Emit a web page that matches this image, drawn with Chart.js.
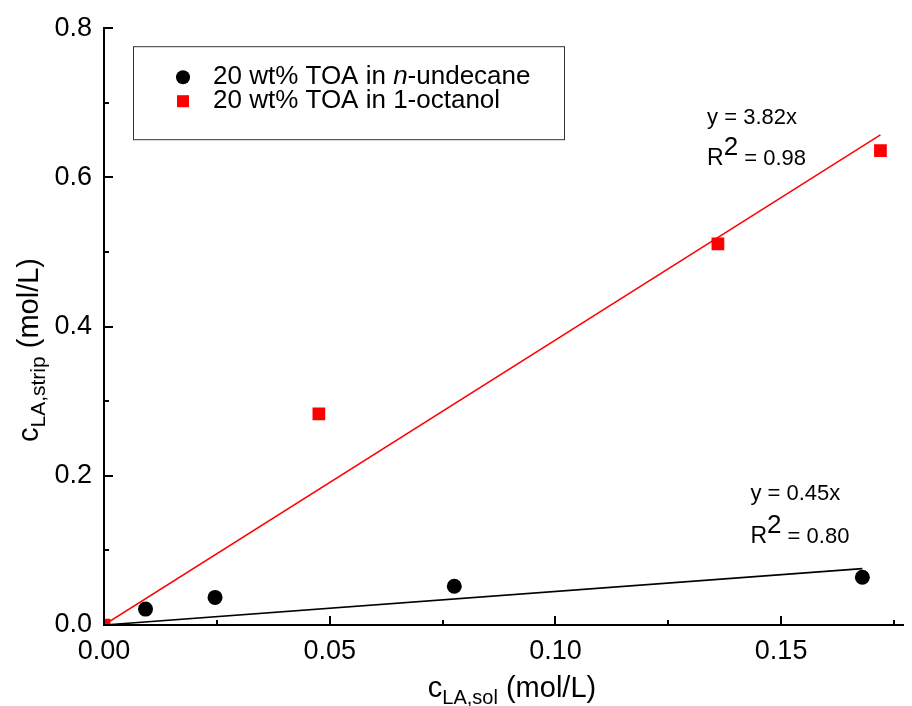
<!DOCTYPE html>
<html>
<head>
<meta charset="utf-8">
<script src="https://cdn.jsdelivr.net/npm/chart.js@4.4.1/dist/chart.umd.min.js"></script>
<style>
  html, body { margin: 0; padding: 0; background: #fff; }
  #wrap { width: 912px; height: 706px; }
</style>
</head>
<body>
<div id="wrap"><canvas id="stripChart"></canvas></div>
<script>
// LA concentration in strip phase vs. solvent phase (mol/L)
const undecaneX = [0.0092, 0.0246, 0.0776, 0.168];
const undecaneY = [0.0213, 0.037, 0.052, 0.064];
const octanolX = [0, 0.0476, 0.136, 0.172];
const octanolY = [0, 0.283, 0.511, 0.636];

// fits through the origin: undecane, octanol
const fitSlopes = [0.45, 3.82];
const fitR2 = ['0.80', '0.98'];
const fitEndX = [0.168, 0.172];

const seriesLabels = ['20 wt% TOA in n-undecane', '20 wt% TOA in 1-octanol'];

const xTicks = [0, 0.05, 0.10, 0.15];
const xMinorTicks = [0.025, 0.075, 0.125, 0.175];
const yTicks = [0, 0.2, 0.4, 0.6, 0.8];
const yMinorTicks = [0.1, 0.3, 0.5, 0.7];

const FONT = 'Liberation Sans';
Chart.defaults.font.family = FONT;
Chart.defaults.color = '#000';

const toPoints = (xs, ys) => xs.map((x, i) => ({ x: x, y: ys[i] }));
const fitLine = k => [{ x: 0, y: 0 }, { x: fitEndX[k], y: fitSlopes[k] * fitEndX[k] }];

// text helpers for sub/superscripts and italics
const fontOf = r => (r.italic ? 'italic ' : '') + r.size + 'px "' + FONT + '"';
function runsWidth(ctx, runs) {
  let w = 0;
  runs.forEach(r => { ctx.font = fontOf(r); w += ctx.measureText(r.text).width; });
  return w;
}
function drawRuns(ctx, x, y, runs) {
  runs.forEach(r => {
    ctx.font = fontOf(r);
    ctx.fillText(r.text, x, y + (r.dy || 0));
    x += ctx.measureText(r.text).width;
  });
}

const decorations = {
  id: 'decorations',
  afterDraw(chart) {
    const ctx = chart.ctx;
    const a = chart.chartArea;
    const xs = chart.scales.x, ys = chart.scales.y;
    ctx.save();
    ctx.fillStyle = '#000';
    ctx.strokeStyle = '#000';

    // inward ticks
    ctx.lineWidth = 2;
    ctx.beginPath();
    xTicks.forEach(v => { const p = Math.round(xs.getPixelForValue(v)); ctx.moveTo(p, a.bottom); ctx.lineTo(p, a.bottom - 9); });
    xMinorTicks.forEach(v => { const p = Math.round(xs.getPixelForValue(v)); ctx.moveTo(p, a.bottom); ctx.lineTo(p, a.bottom - 5); });
    yTicks.forEach(v => { const p = Math.round(ys.getPixelForValue(v)); ctx.moveTo(a.left, p); ctx.lineTo(a.left + 9, p); });
    yMinorTicks.forEach(v => { const p = Math.round(ys.getPixelForValue(v)); ctx.moveTo(a.left, p); ctx.lineTo(a.left + 5, p); });
    ctx.stroke();

    // axis titles
    ctx.textBaseline = 'alphabetic';
    const xTitle = [{ text: 'c', size: 29 }, { text: 'LA,sol', size: 20, dy: 7 }, { text: ' (mol/L)', size: 29 }];
    const xw = runsWidth(ctx, xTitle);
    drawRuns(ctx, 512 - xw / 2, 697, xTitle);

    const yTitle = [{ text: 'c', size: 29 }, { text: 'LA,strip', size: 21, dy: 7 }, { text: ' (mol/L)', size: 29 }];
    const yw = runsWidth(ctx, yTitle);
    ctx.save();
    ctx.translate(38, 350);
    ctx.rotate(-Math.PI / 2);
    drawRuns(ctx, -yw / 2, 0, yTitle);
    ctx.restore();

    // legend box
    const lx = a.left + 29, ly = a.top + 18;
    ctx.lineWidth = 1;
    ctx.strokeStyle = '#333';
    ctx.strokeRect(lx + 0.5, ly + 0.5, 431, 93);
    const rowY = [ly + 31, ly + 55];
    ctx.fillStyle = '#000';
    ctx.beginPath();
    ctx.arc(lx + 50, rowY[0], 7, 0, Math.PI * 2);
    ctx.fill();
    ctx.fillStyle = '#ff0000';
    ctx.fillRect(lx + 44, rowY[1] - 6, 12, 12);
    ctx.fillStyle = '#000';
    ctx.textBaseline = 'middle';
    const lab0 = seriesLabels[0].split('n-');
    drawRuns(ctx, lx + 80, rowY[0], [
      { text: lab0[0], size: 26 }, { text: 'n', size: 26, italic: true }, { text: '-' + lab0[1], size: 26 }
    ]);
    drawRuns(ctx, lx + 80, rowY[1], [{ text: seriesLabels[1], size: 26 }]);

    // fit equations
    ctx.textBaseline = 'alphabetic';
    const notes = [
      { k: 1, x: 0.1336, y: 0.672, gap: 41 },
      { k: 0, x: 0.1432, y: 0.168, gap: 43 }
    ];
    notes.forEach(n => {
      const px = xs.getPixelForValue(n.x), py = ys.getPixelForValue(n.y);
      drawRuns(ctx, px, py, [{ text: 'y = ' + fitSlopes[n.k].toFixed(2) + 'x', size: 22 }]);
      drawRuns(ctx, px, py + n.gap, [
        { text: 'R', size: 23 }, { text: '2', size: 26, dy: -10 }, { text: ' = ' + fitR2[n.k], size: 22 }
      ]);
    });
    ctx.restore();
  }
};

new Chart(document.getElementById('stripChart'), {
  type: 'scatter',
  data: {
    datasets: [
      {
        label: seriesLabels[0],
        data: toPoints(undecaneX, undecaneY),
        pointStyle: 'circle',
        pointRadius: 7.5,
        pointBackgroundColor: '#000',
        pointBorderWidth: 0
      },
      {
        label: seriesLabels[1],
        data: toPoints(octanolX, octanolY),
        pointStyle: 'rect',
        pointRadius: 9,
        pointBackgroundColor: '#ff0000',
        pointBorderWidth: 0
      },
      {
        label: 'fit n-undecane',
        data: fitLine(0),
        showLine: true,
        borderColor: '#000',
        borderWidth: 1.6,
        pointRadius: 0
      },
      {
        label: 'fit 1-octanol',
        data: fitLine(1),
        showLine: true,
        borderColor: '#ff0000',
        borderWidth: 1.5,
        pointRadius: 0
      }
    ]
  },
  options: {
    responsive: true,
    maintainAspectRatio: false,
    animation: false,
    events: [],
    layout: { padding: { top: 23, right: 2, left: 0, bottom: 0 } },
    plugins: { legend: { display: false }, tooltip: { enabled: false } },
    scales: {
      x: {
        type: 'linear',
        min: 0,
        max: 0.177,
        afterBuildTicks: s => { s.ticks = xTicks.map(v => ({ value: v })); },
        afterFit: s => { s.height = 81; },
        grid: { display: false, drawTicks: false },
        border: { color: '#000', width: 2 },
        ticks: { padding: 10, font: { size: 27 }, color: '#000', maxRotation: 0, callback: v => v.toFixed(2) }
      },
      y: {
        type: 'linear',
        min: 0,
        max: 0.8,
        afterBuildTicks: s => { s.ticks = yTicks.map(v => ({ value: v })); },
        afterFit: s => { s.width = 104; },
        grid: { display: false, drawTicks: false },
        border: { color: '#000', width: 2 },
        ticks: { padding: 12, font: { size: 27 }, color: '#000', callback: v => v.toFixed(1) }
      }
    }
  },
  plugins: [decorations]
});
</script>
</body>
</html>
